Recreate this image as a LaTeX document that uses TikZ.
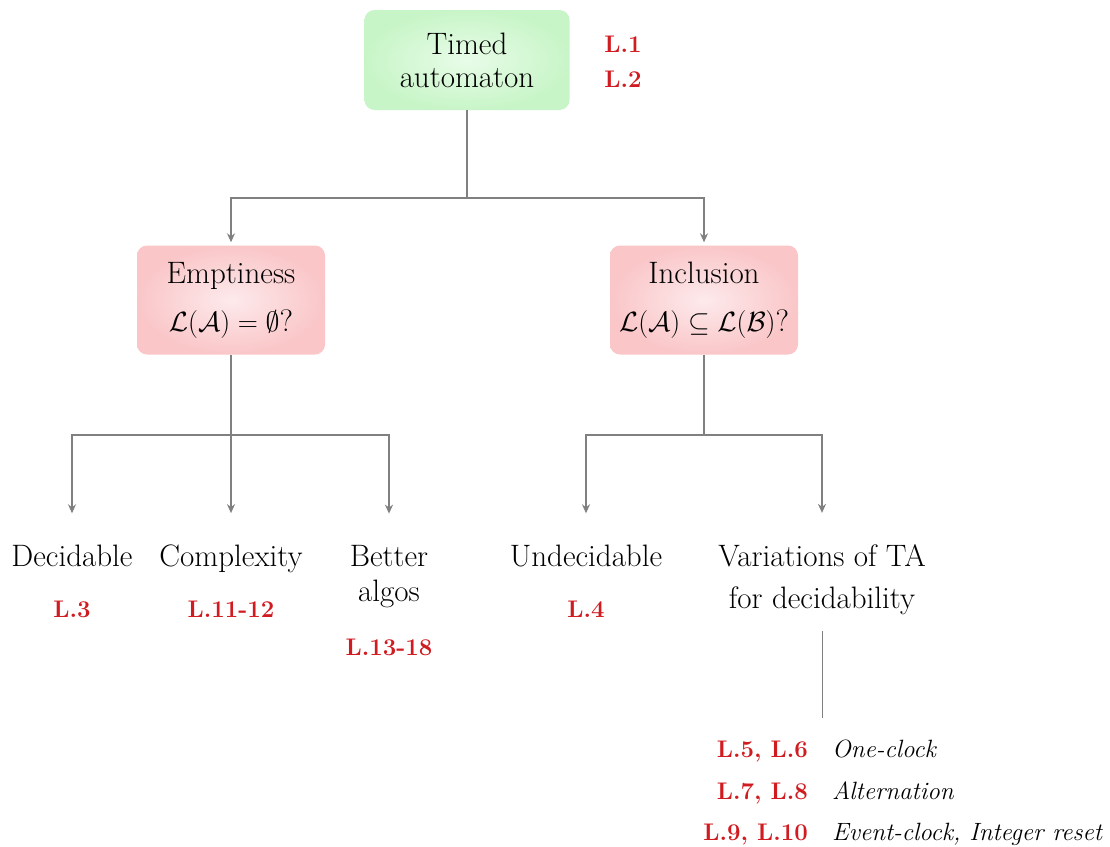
\documentclass[tikz,border=0pt]{standalone}
\usepackage{graphicx}
\usetikzlibrary{arrows.meta}
\definecolor{labred}{RGB}{208,28,32}
\definecolor{linegray}{RGB}{128,128,128}
\definecolor{greenout}{RGB}{200,245,200}
\definecolor{greenin}{RGB}{232,252,232}
\definecolor{pinkout}{RGB}{250,198,200}
\definecolor{pinkin}{RGB}{253,234,236}
\newcommand{\bigmath}[1]{\scalebox{1.12}{$#1$}}
\tikzset{
  main/.style={font=\fontsize{31}{35}\selectfont, align=center, inner sep=0pt},
  reflab/.style={font=\fontsize{24}{28}\selectfont\bfseries, text=labred, inner sep=0pt},
  varlab/.style={font=\fontsize{25}{30}\selectfont\itshape, inner sep=0pt},
  greenbox/.style={rounded corners=10pt, minimum width=205pt, minimum height=100pt,
    shading=radial, outer color=greenout, inner color=greenin,
    font=\fontsize{31}{33}\selectfont, align=center},
  pinkbox/.style={rounded corners=10pt, minimum width=188pt, minimum height=109pt,
    shading=radial, outer color=pinkout, inner color=pinkin,
    font=\fontsize{31}{36}\selectfont, align=center},
  conn/.style={draw=linegray, line width=1.4pt},
  arr/.style={conn, -{Stealth[length=9pt,width=8pt]}},
}
\begin{document}
\begin{tikzpicture}[x=1pt,y=-1pt]
\useasboundingbox (0,0) rectangle (1110,846);
% top
\node[greenbox] (top) at (467,60) {Timed\\automaton};
\node[reflab, anchor=base] (l1) at (623,52) {L.1};
\node[reflab, anchor=base] (l2) at (623,87) {L.2};
% level 2
\node[pinkbox] (emp) at (231,300) {Emptiness\\[12pt]\bigmath{\mathcal{L}(\mathcal{A})=\emptyset}?};
\node[pinkbox] (inc) at (704,300) {Inclusion\\[12pt]\bigmath{\mathcal{L}(\mathcal{A})\subseteq\mathcal{L}(\mathcal{B})}?};
\coordinate (j1) at (467,198);
\draw[conn] (top.south) -- (j1);
\draw[arr, shorten >=3pt] (j1) -| (emp.north);
\draw[arr, shorten >=3pt] (j1) -| (inc.north);
% leaves
\node[main, anchor=base] (dec) at (72,566) {Decidable};
\node[main, anchor=base] (cpx) at (231,566) {Complexity};
\node[main, anchor=base] (bet) at (389,601) {Better\\algos};
\node[main, anchor=base] (und) at (586,566) {Undecidable};
\node[main, anchor=base, font=\fontsize{31}{42}\selectfont] (var) at (822,608) {Variations of TA\\for decidability};
\node[reflab, anchor=base] (l3) at (72,617) {L.3};
\node[reflab, anchor=base] (l1112) at (231,617) {L.11-12};
\node[reflab, anchor=base] (l1318) at (389,655) {L.13-18};
\node[reflab, anchor=base] (l4) at (586,617) {L.4};
\coordinate (j2) at (231,435);
\coordinate (j3) at (704,435);
\draw[conn] (emp.south) -- (j2);
\draw[conn] (inc.south) -- (j3);
\draw[arr, shorten >=31pt] (j2) -| (dec.north);
\draw[arr, shorten >=31pt] (j2) -- (cpx.north);
\draw[arr, shorten >=31pt] (j2) -| (bet.north);
\draw[arr, shorten >=31pt] (j3) -| (und.north);
\draw[arr, shorten >=31pt] (j3) -| (var.north);
% variations
\coordinate (vend) at (822,718);
\draw[conn, line width=1pt, shorten <=16pt] (var.south) -- (vend);
\node[reflab, anchor=base east] (l56) at (808,757) {L.5, L.6};
\node[reflab, anchor=base east] (l78) at (808,799) {L.7, L.8};
\node[reflab, anchor=base east] (l910) at (808,840) {L.9, L.10};
\node[varlab, anchor=base west] (v1) at (832,757) {One-clock};
\node[varlab, anchor=base west] (v2) at (832,799) {Alternation};
\node[varlab, anchor=base west] (v3) at (832,840) {Event-clock, Integer reset};
\end{tikzpicture}
\end{document}
